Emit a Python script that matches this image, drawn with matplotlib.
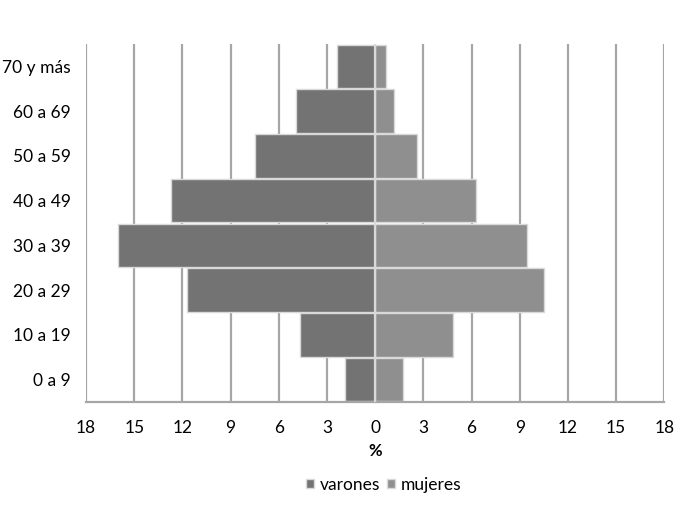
import matplotlib.pyplot as plt
import numpy as np

# datos de la pirámide (%)
grupos = ['0 a 9', '10 a 19', '20 a 29', '30 a 39', '40 a 49', '50 a 59', '60 a 69', '70 y más']
varones = [1.87, 4.69, 11.73, 16.0, 12.70, 7.48, 4.93, 2.39]
mujeres = [1.76, 4.85, 10.54, 9.42, 6.28, 2.63, 1.16, 0.68]
ticks = [-18, -15, -12, -9, -6, -3, 0, 3, 6, 9, 12, 15, 18]

plt.rcParams['font.family'] = ['Lato', 'DejaVu Sans']

fig = plt.figure(figsize=(6.79, 5.05), dpi=100)
ax = fig.add_axes([0.1267, 0.204, 0.8517, 0.7089])

y = np.arange(len(grupos))
ax.barh(y, [-v for v in varones], height=0.97, color='#737373',
        edgecolor='#d9d9d9', linewidth=1, label='varones', zorder=2)
ax.barh(y, mujeres, height=0.97, color='#8f8f8f',
        edgecolor='#d9d9d9', linewidth=1, label='mujeres', zorder=2)

ax.set_xlim(-18, 18)
ax.set_ylim(-0.5, 7.5)
for t in ticks:
    if t != 0:
        ax.axvline(t, color='#a6a6a6', linewidth=1.6, zorder=1)
ax.axvline(0, color='#d9d9d9', linewidth=1.6, zorder=3)

ax.set_xticks(ticks)
ax.set_xticklabels([str(abs(t)) for t in ticks], fontsize=12.5)
ax.set_yticks(y)
ax.set_yticklabels(grupos, fontsize=12.5)
ax.tick_params(length=0, pad=13)
ax.tick_params(axis='y', pad=11)

for s in ['top', 'right', 'left']:
    ax.spines[s].set_visible(False)
ax.spines['bottom'].set_color('#a6a6a6')
ax.spines['bottom'].set_linewidth(1.6)

ax.set_xlabel('%', fontsize=12, fontweight='bold', labelpad=5)

leg = fig.legend(loc='center', bbox_to_anchor=(0.565, 0.04), ncol=2, frameon=False,
                 fontsize=12.5, handlelength=0.45, handleheight=0.45,
                 handletextpad=0.35, columnspacing=0.4)

plt.savefig('out.png', dpi=100)
